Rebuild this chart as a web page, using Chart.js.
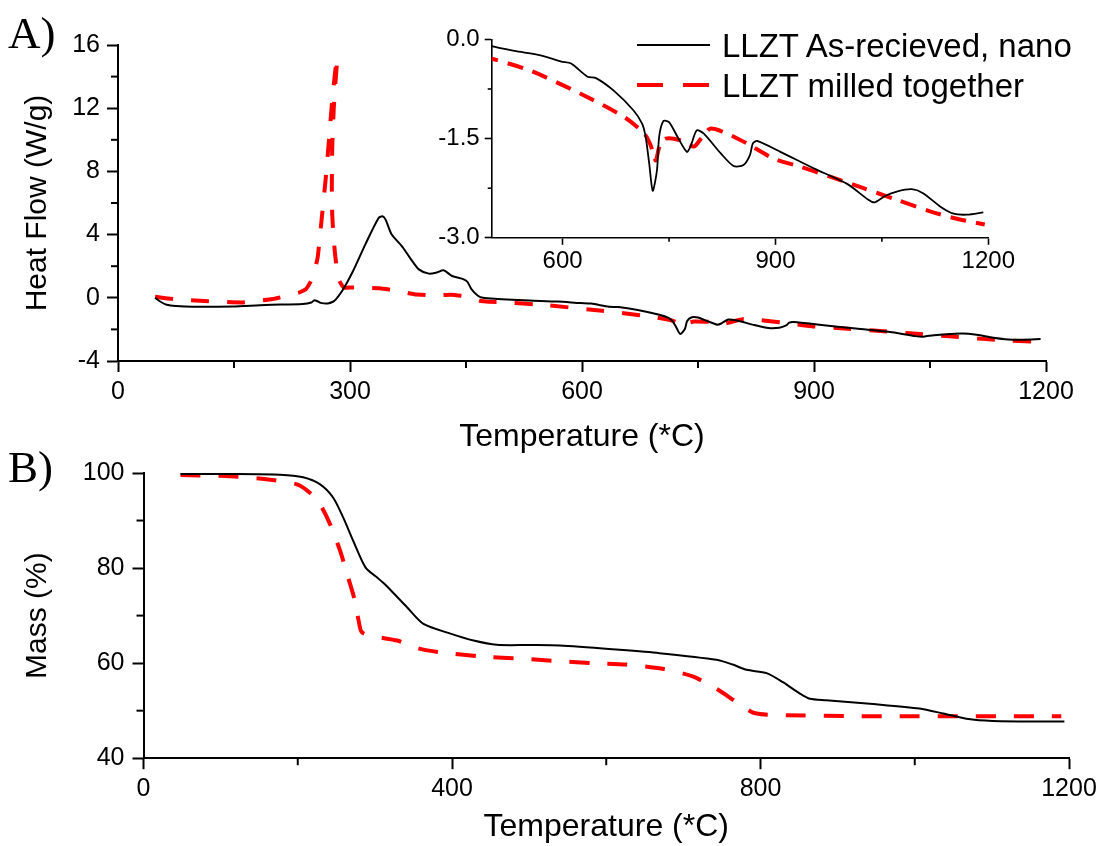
<!DOCTYPE html>
<html>
<head>
<meta charset="utf-8">
<script src="https://cdn.jsdelivr.net/npm/chart.js@4.4.1/dist/chart.umd.min.js"></script>
<style>
  html, body { margin: 0; padding: 0; background: #fff; }
  #wrap { position: relative; width: 1104px; height: 846px; overflow: hidden; background: #fff; }
  canvas { position: absolute; }
  .panel { position: absolute; font-family: 'Liberation Serif', 'Times New Roman', serif; font-size: 45px; color: #000; line-height: 1; }
  .leg { position: absolute; font-family: 'Liberation Sans', Arial, sans-serif; font-size: 33px; color: #000; white-space: nowrap; line-height: 1; }
  .leg svg { position: absolute; left: 0; top: 0; }
</style>
</head>
<body>
<div id="wrap">
  <canvas id="cA" width="1104" height="470" style="left:0;top:0;"></canvas>
  <canvas id="cB" width="1104" height="396" style="left:0;top:450px;"></canvas>
  <canvas id="cI" width="620" height="270" style="left:400px;top:20px;"></canvas>
  <div class="panel" style="left:8px;top:11px;">A)</div>
  <div class="panel" style="left:8px;top:445px;">B)</div>
  <div class="leg" id="leg1" style="left:637px;top:27px;height:36px;width:467px;"></div>
  <div class="leg" id="leg2" style="left:637px;top:67px;height:36px;width:467px;"></div>
</div>
<script>
// ---------------- DATA ----------------
const seriesNames = ['LLZT As-recieved, nano', 'LLZT milled together'];

// DSC (panel A + inset) - LLZT As-received, nano
const dscTempAsRecv = [48, 55, 63, 75, 97, 148, 191, 239, 250, 254, 258, 262, 271, 278, 282, 290, 303, 320, 337, 342, 346, 354, 367, 378, 389, 402, 412, 421, 432, 447, 452, 457, 465, 472, 492, 503, 532, 569, 598, 612, 635, 647, 672, 700, 712, 717, 722, 727, 733, 736, 742, 750, 762, 775, 780, 789, 799, 823, 841, 855, 864, 868, 874, 907, 954, 1001, 1031, 1040, 1055, 1071, 1092, 1108, 1132, 1151, 1170, 1193];
const dscFlowAsRecv = [0.0, -0.25, -0.44, -0.52, -0.57, -0.55, -0.45, -0.40, -0.30, -0.15, -0.22, -0.32, -0.36, -0.25, -0.08, 0.44, 1.6, 3.4, 5.05, 5.16, 4.95, 4.0, 3.27, 2.5, 1.8, 1.53, 1.6, 1.74, 1.38, 1.17, 1.0, 0.55, 0.15, 0.0, -0.08, -0.11, -0.175, -0.24, -0.335, -0.365, -0.565, -0.585, -0.775, -1.075, -1.275, -1.475, -1.875, -2.29, -1.975, -1.475, -1.235, -1.25, -1.475, -1.70, -1.625, -1.375, -1.425, -1.725, -1.915, -1.9, -1.75, -1.575, -1.535, -1.70, -1.95, -2.185, -2.425, -2.465, -2.365, -2.30, -2.265, -2.325, -2.525, -2.635, -2.65, -2.615];

// DSC - LLZT milled together (temperature runs back slightly during the sharp exotherm)
const dscTempMilled = [48, 75, 106, 161, 200, 234, 243, 251, 258, 263.5, 268.7, 273, 277, 281, 283.6, 281, 279, 277, 276.5, 277, 278.5, 280.7, 285, 292, 302, 338, 360, 383, 410, 430, 448, 468, 480, 503, 555, 626, 687, 715, 724, 731, 737, 745, 766, 785, 795, 808, 832, 860, 897, 935, 977, 1024, 1071, 1118, 1151, 1195];
const dscFlowMilled = [0.06, -0.1, -0.19, -0.29, -0.08, 0.33, 0.55, 1.2, 2.5, 5.05, 7.6, 10.1, 12.5, 14.4, 15.2, 13.5, 12.0, 9.5, 7.0, 5.3, 4.0, 2.75, 1.2, 0.65, 0.65, 0.6, 0.45, 0.23, 0.15, 0.2, 0.1, -0.19, -0.25, -0.30, -0.475, -0.825, -1.175, -1.425, -1.6, -1.83, -1.6, -1.5, -1.525, -1.62, -1.5, -1.35, -1.425, -1.575, -1.80, -1.925, -2.075, -2.25, -2.425, -2.60, -2.70, -2.80];

// TGA (panel B) - LLZT As-received, nano
const tgaTempAsRecv = [48, 112, 177, 207, 229, 246, 259, 272, 288, 303, 313, 342, 363, 398, 428, 458, 502, 540, 617, 669, 743, 764, 782, 808, 829, 851, 864, 885, 950, 1006, 1037, 1067, 1101, 1194];
const tgaMassAsRecv = [99.8, 99.8, 99.65, 99.1, 97.6, 94.8, 90.6, 85.7, 80.1, 78.0, 76.6, 71.7, 68.25, 66.2, 64.75, 63.85, 63.8, 63.7, 62.8, 62.1, 60.7, 59.7, 58.6, 57.9, 56.0, 53.6, 52.5, 52.2, 51.35, 50.45, 49.4, 48.3, 47.85, 47.7];

// TGA - LLZT milled together
const tgaTempMilled = [48, 112, 164, 199, 216, 229, 242, 255, 264, 273, 279, 283, 298, 329, 359, 394, 437, 493, 540, 583, 626, 673, 712, 743, 769, 792, 833, 928, 1190];
const tgaMassMilled = [99.6, 99.3, 98.6, 97.6, 95.8, 93.4, 89.2, 83.6, 78.7, 73.8, 68.9, 66.5, 65.65, 64.75, 63.0, 62.1, 61.4, 60.9, 60.4, 60.0, 59.7, 58.8, 57.2, 54.6, 51.8, 49.5, 49.05, 48.85, 48.85];

// Tick labels (major) and minor tick positions
const ticksAx = [0, 300, 600, 900, 1200];
const ticksAy = [-4, 0, 4, 8, 12, 16];
const minorAx = [150, 450, 750, 1050];
const minorAy = [-2, 2, 6, 10, 14];
const ticksIx = [600, 900, 1200];
const ticksIy = [-3.0, -1.5, 0.0];
const minorIx = [750, 1050];
const minorIy = [-2.25, -0.75];
const ticksBx = [0, 400, 800, 1200];
const ticksBy = [40, 60, 80, 100];
const minorBx = [200, 600, 1000];
const minorBy = [50, 70, 90];

// ---------------- HELPERS ----------------
const FONT = "'Liberation Sans', Arial, Helvetica, sans-serif";
Chart.defaults.font.family = FONT;
Chart.defaults.color = '#000';
const RED = '#ff0000';
const BLACK = '#000000';

function pts(xs, ys) { return xs.map((x, i) => ({ x: x, y: ys[i] })); }

const minorTickPlugin = {
  id: 'minorTicks',
  afterDraw(chart, args, o) {
    const ctx = chart.ctx, xs = chart.scales.x, ys = chart.scales.y;
    ctx.save();
    ctx.strokeStyle = '#000';
    ctx.lineWidth = o.width;
    (o.x || []).forEach(v => {
      const px = xs.getPixelForValue(v);
      ctx.beginPath(); ctx.moveTo(px, xs.top); ctx.lineTo(px, xs.top + o.len); ctx.stroke();
    });
    (o.y || []).forEach(v => {
      const py = ys.getPixelForValue(v);
      ctx.beginPath(); ctx.moveTo(ys.right, py); ctx.lineTo(ys.right - o.len, py); ctx.stroke();
    });
    ctx.restore();
  }
};

function axis(opts) {
  return {
    type: 'linear',
    min: opts.min, max: opts.max,
    afterBuildTicks: s => { s.ticks = opts.ticks.map(v => ({ value: v })); },
    afterFit: s => { if (opts.height != null) s.height = opts.height; if (opts.width != null) s.width = opts.width; },
    border: { display: true, color: '#000', width: opts.bw },
    grid: { display: true, drawOnChartArea: false, drawTicks: true, tickLength: opts.tl, tickColor: '#000', tickWidth: opts.bw, color: '#000' },
    ticks: { font: { size: opts.fs }, color: '#000', padding: opts.pad, autoSkip: false, maxRotation: 0, callback: opts.fmt || (v => String(v)) },
    title: opts.title ? { display: true, text: opts.title, font: { size: opts.tfs }, color: '#000', padding: opts.tpad } : { display: false }
  };
}

function lineDs(label, data, color, width, dash, tension) {
  return { label: label, data: data, borderColor: color, backgroundColor: color, borderWidth: width, borderDash: dash || [], pointRadius: 0, tension: tension == null ? 0.25 : tension, fill: false };
}

const baseOpts = {
  responsive: false, animation: false, devicePixelRatio: 1,
  plugins: { legend: { display: false }, tooltip: { enabled: false } }
};

// ---------------- PANEL A (DSC) ----------------
new Chart(document.getElementById('cA'), {
  type: 'line',
  data: { datasets: [
    lineDs(seriesNames[0], pts(dscTempAsRecv, dscFlowAsRecv), BLACK, 2),
    lineDs(seriesNames[1], pts(dscTempMilled, dscFlowMilled), RED, 4, [18, 18], 0.15)
  ]},
  options: Object.assign({}, baseOpts, {
    layout: { padding: { left: 0, right: 58, top: 45, bottom: 0 } },
    scales: {
      x: axis({ min: 0, max: 1200, ticks: ticksAx, height: 109, bw: 2, tl: 11, fs: 25, pad: 5, title: 'Temperature (*C)', tfs: 32, tpad: { top: 0, bottom: 14 } }),
      y: axis({ min: -4, max: 16, ticks: ticksAy, width: 118, bw: 2, tl: 11, fs: 25, pad: 7, title: 'Heat Flow (W/g)', tfs: 30, tpad: { top: 20, bottom: 0 } })
    },
    plugins: { legend: { display: false }, tooltip: { enabled: false }, minorTicks: { x: minorAx, y: minorAy, len: 7, width: 2 } }
  }),
  plugins: [minorTickPlugin]
});

// ---------------- INSET (DSC zoom) ----------------
new Chart(document.getElementById('cI'), {
  type: 'line',
  data: { datasets: [
    lineDs(seriesNames[0], pts(dscTempAsRecv, dscFlowAsRecv), BLACK, 1.8),
    lineDs(seriesNames[1], pts(dscTempMilled, dscFlowMilled), RED, 4, [16, 10])
  ]},
  options: Object.assign({}, baseOpts, {
    layout: { padding: { left: 0, right: 31.7, top: 18.3, bottom: 0 } },
    scales: {
      x: axis({ min: 500, max: 1200, ticks: ticksIx, height: 52.2, bw: 1.6, tl: 7, fs: 24, pad: 2 }),
      y: axis({ min: -3, max: 0, ticks: ticksIy, width: 91.7, bw: 1.6, tl: 7, fs: 24, pad: 5, fmt: v => v.toFixed(1) })
    },
    plugins: { legend: { display: false }, tooltip: { enabled: false }, minorTicks: { x: minorIx, y: minorIy, len: 4, width: 1.6 } }
  }),
  plugins: [minorTickPlugin]
});

// ---------------- PANEL B (TGA) ----------------
new Chart(document.getElementById('cB'), {
  type: 'line',
  data: { datasets: [
    lineDs(seriesNames[0], pts(tgaTempAsRecv, tgaMassAsRecv), BLACK, 2),
    lineDs(seriesNames[1], pts(tgaTempMilled, tgaMassMilled), RED, 4, [20, 18])
  ]},
  options: Object.assign({}, baseOpts, {
    layout: { padding: { left: 0, right: 35, top: 21.7, bottom: 0 } },
    scales: {
      x: axis({ min: 0, max: 1200, ticks: ticksBx, height: 87.8, bw: 2, tl: 11, fs: 25, pad: 5, title: 'Temperature (*C)', tfs: 32, tpad: { top: 0, bottom: 0 } }),
      y: axis({ min: 40, max: 100, ticks: ticksBy, width: 143.5, bw: 2, tl: 11, fs: 25, pad: 8, title: 'Mass (%)', tfs: 30, tpad: { top: 20, bottom: 0 } })
    },
    plugins: { legend: { display: false }, tooltip: { enabled: false }, minorTicks: { x: minorBx, y: minorBy, len: 7, width: 2 } }
  }),
  plugins: [minorTickPlugin]
});

// ---------------- LEGEND (HTML, real text) ----------------
function legendRow(el, name, color, width, dash) {
  el.innerHTML = '<svg width="80" height="36"><line x1="0" y1="18" x2="73" y2="18" stroke="' + color + '" stroke-width="' + width + '"' + (dash ? ' stroke-dasharray="' + dash + '"' : '') + '/></svg>' +
    '<span style="position:absolute;left:85px;top:2px;">' + name + '</span>';
}
legendRow(document.getElementById('leg1'), seriesNames[0], BLACK, 2, null);
legendRow(document.getElementById('leg2'), seriesNames[1], RED, 4, '26 20');
</script>
</body>
</html>
